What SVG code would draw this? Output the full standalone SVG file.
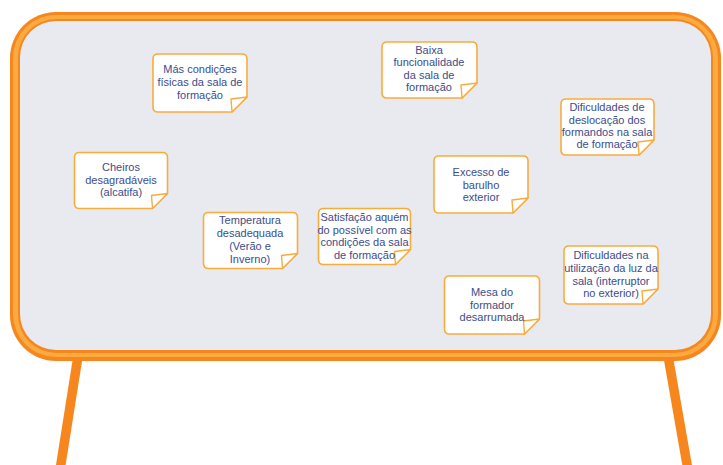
<svg xmlns="http://www.w3.org/2000/svg" width="723" height="465" viewBox="0 0 723 465">
  <style>
    .leg { stroke: #F6871F; stroke-width: 9.5; fill: none; }
    .note { fill: #FFFFFF; stroke: #F9AC3E; stroke-width: 1.6; stroke-linejoin: round; }
    .flap { fill: #FFFFFF; stroke: #F9AC3E; stroke-width: 1.4; stroke-linejoin: round; }
    .lbl { font-family: "Liberation Sans", Arial, sans-serif; font-size: 11px; fill: #3C4C8C; text-anchor: middle; }
  </style>

  <!-- easel legs -->
  <g id="legs">
    <line class="leg" x1="79" y1="350" x2="60" y2="470"/>
    <line class="leg" x1="667" y1="350" x2="688" y2="470"/>
  </g>

  <!-- board frame: dark rim, light band, dark inner rim, surface -->
  <g id="board">
    <rect x="10" y="12" width="711" height="349" rx="46" fill="#F6871F"/>
    <rect x="13" y="15" width="705" height="342" rx="43" fill="#FBAA3F"/>
    <rect x="18" y="19" width="695" height="334" rx="38" fill="#F6871F"/>
    <rect x="20" y="21" width="691" height="329" rx="36" fill="#E9EAF0"/>
  </g>

  <g id="note-condicoes">
    <path class="note" d="M158,54 H242 Q247,54 247,59 V97 L232,112 H158 Q153,112 153,107 V59 Q153,54 158,54 Z"/>
    <path class="flap" d="M232,112 L231,99 L247,97 Z"/>
    <text class="lbl"><tspan x="200" y="73">Más condições</tspan><tspan x="200" y="86">físicas da sala de</tspan><tspan x="200" y="99">formação</tspan></text>
  </g>

  <g id="note-funcionalidade">
    <path class="note" d="M387,42 H472 Q477,42 477,47 V83 L462,98 H387 Q382,98 382,93 V47 Q382,42 387,42 Z"/>
    <path class="flap" d="M462,98 L461,85 L477,83 Z"/>
    <text class="lbl"><tspan x="429" y="53.5">Baixa</tspan><tspan x="429" y="66">funcionalidade</tspan><tspan x="429" y="78.5">da sala de</tspan><tspan x="429" y="91">formação</tspan></text>
  </g>

  <g id="note-deslocacao">
    <path class="note" d="M566,99 H649 Q654,99 654,104 V140 L639,155 H566 Q561,155 561,150 V104 Q561,99 566,99 Z"/>
    <path class="flap" d="M639,155 L638,142 L654,140 Z"/>
    <text class="lbl"><tspan x="607" y="111">Dificuldades de</tspan><tspan x="607" y="123.5">deslocação dos</tspan><tspan x="607" y="136">formandos na sala</tspan><tspan x="607" y="148">de formação</tspan></text>
  </g>

  <g id="note-cheiros">
    <path class="note" d="M79.5,152.5 H162.5 Q167.5,152.5 167.5,157.5 V193.5 L152.5,208.5 H79.5 Q74.5,208.5 74.5,203.5 V157.5 Q74.5,152.5 79.5,152.5 Z"/>
    <path class="flap" d="M152.5,208.5 L151.5,195.5 L167.5,193.5 Z"/>
    <text class="lbl"><tspan x="121" y="171">Cheiros</tspan><tspan x="121" y="183.5">desagradáveis</tspan><tspan x="121" y="196">(alcatifa)</tspan></text>
  </g>

  <g id="note-temperatura">
    <path class="note" d="M208.5,212.5 H292.5 Q297.5,212.5 297.5,217.5 V253.5 L282.5,268.5 H208.5 Q203.5,268.5 203.5,263.5 V217.5 Q203.5,212.5 208.5,212.5 Z"/>
    <path class="flap" d="M282.5,268.5 L281.5,255.5 L297.5,253.5 Z"/>
    <text class="lbl"><tspan x="250" y="224">Temperatura</tspan><tspan x="250" y="237">desadequada</tspan><tspan x="250" y="250">(Verão e</tspan><tspan x="250" y="263">Inverno)</tspan></text>
  </g>

  <g id="note-satisfacao">
    <path class="note" d="M323.5,208.5 H405.5 Q410.5,208.5 410.5,213.5 V249.5 L395.5,264.5 H323.5 Q318.5,264.5 318.5,259.5 V213.5 Q318.5,208.5 323.5,208.5 Z"/>
    <path class="flap" d="M395.5,264.5 L394.5,251.5 L410.5,249.5 Z"/>
    <text class="lbl"><tspan x="364.5" y="221">Satisfação aquém</tspan><tspan x="364.5" y="233.5">do possível com as</tspan><tspan x="364.5" y="246">condições da sala</tspan><tspan x="364.5" y="258.5">de formação</tspan></text>
  </g>

  <g id="note-barulho">
    <path class="note" d="M439,156 H523 Q528,156 528,161 V198 L513,213 H439 Q434,213 434,208 V161 Q434,156 439,156 Z"/>
    <path class="flap" d="M513,213 L512,200 L528,198 Z"/>
    <text class="lbl"><tspan x="481" y="176">Excesso de</tspan><tspan x="481" y="188.5">barulho</tspan><tspan x="481" y="200.5">exterior</tspan></text>
  </g>

  <g id="note-luz">
    <path class="note" d="M569,246 H653 Q658,246 658,251 V289 L643,304 H569 Q564,304 564,299 V251 Q564,246 569,246 Z"/>
    <path class="flap" d="M643,304 L642,291 L658,289 Z"/>
    <text class="lbl"><tspan x="611" y="259">Dificuldades na</tspan><tspan x="611" y="272">utilização da luz da</tspan><tspan x="611" y="284.5">sala (interruptor</tspan><tspan x="611" y="297">no exterior)</tspan></text>
  </g>

  <g id="note-mesa">
    <path class="note" d="M449.5,276 H534.5 Q539.5,276 539.5,281 V319 L524.5,334 H449.5 Q444.5,334 444.5,329 V281 Q444.5,276 449.5,276 Z"/>
    <path class="flap" d="M524.5,334 L523.5,321 L539.5,319 Z"/>
    <text class="lbl"><tspan x="492" y="296">Mesa do</tspan><tspan x="492" y="308.5">formador</tspan><tspan x="492" y="321">desarrumada</tspan></text>
  </g>
</svg>
